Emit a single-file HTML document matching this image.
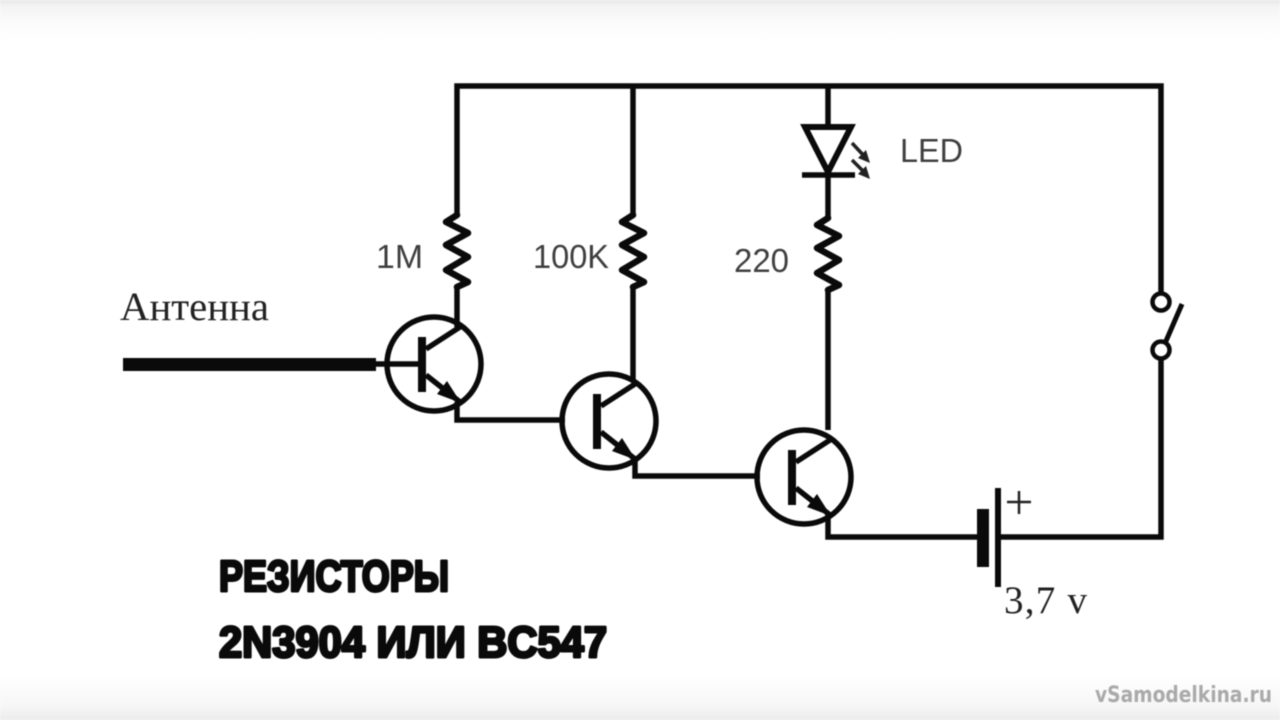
<!DOCTYPE html>
<html lang="ru">
<head>
<meta charset="utf-8">
<style>
html,body{margin:0;padding:0;background:#fff;width:1280px;height:720px;overflow:hidden}
svg{display:block;filter:blur(.4px)}
.w{fill:none;stroke:#0a0a0a;stroke-width:5.5;stroke-linejoin:miter}
.sans{font-family:"Liberation Sans",sans-serif;font-size:33px;fill:#3f3f3f}
.serif{font-family:"Liberation Serif","Noto Serif CJK SC",serif;fill:#222}
.bold{font-family:"Liberation Sans",sans-serif;font-weight:bold;fill:#0a0a0a;stroke:#0a0a0a;stroke-width:3;stroke-linejoin:round}
</style>
</head>
<body>
<svg width="1280" height="720" viewBox="0 0 1280 720" xmlns="http://www.w3.org/2000/svg">
<defs>
<linearGradient id="t" x1="0" y1="0" x2="0" y2="1"><stop offset="0" stop-color="#e8e8e8"/><stop offset=".15" stop-color="#f3f3f3"/><stop offset=".6" stop-color="#fcfcfc"/><stop offset="1" stop-color="#fff"/></linearGradient>
<linearGradient id="b" x1="0" y1="1" x2="0" y2="0"><stop offset="0" stop-color="#ececec"/><stop offset=".3" stop-color="#f6f6f6"/><stop offset="1" stop-color="#fff"/></linearGradient>
<g id="tr">
<circle cx="434" cy="364" r="47" fill="none" stroke="#0a0a0a" stroke-width="5.5"/>
<rect x="418" y="337" width="8" height="55" fill="#0a0a0a"/>
<path class="w" d="M426 349L460 327M426 375L460 402"/>
<path d="M461 403L437 394L447 381Z" fill="#0a0a0a"/>
</g>
<path id="rs" d="M0 0L-11 7L11 18L-11 30L11 42L-11 55L11 67L0 72" fill="none" stroke="#0a0a0a" stroke-width="6.5" stroke-linejoin="round" stroke-linecap="round"/>
</defs>
<rect width="1280" height="720" fill="#fff"/>
<rect width="1280" height="40" fill="url(#t)"/>
<rect y="675" width="1280" height="45" fill="url(#b)"/>

<!-- wires -->
<path class="w" d="M457 327V86H1161V293"/>
<path class="w" d="M633 380V86"/>
<path class="w" d="M828 86V127M828 172V430"/>
<path class="w" d="M1161 358V537H1000M977 537H828V512"/>
<path class="w" d="M457 402V420H565"/>
<path class="w" d="M635 457V476H760"/>
<path class="w" d="M375 364H420"/>

<!-- white out under resistors -->
<rect x="450" y="216" width="14" height="70" fill="#fff"/>
<rect x="626" y="216" width="14" height="70" fill="#fff"/>
<rect x="821" y="219" width="14" height="70" fill="#fff"/>
<use href="#rs" x="457" y="215"/>
<use href="#rs" x="633" y="215"/>
<use href="#rs" x="828" y="218"/>

<!-- transistors -->
<use href="#tr"/>
<use href="#tr" x="175" y="57"/>
<use href="#tr" x="370" y="113"/>

<!-- antenna -->
<rect x="123" y="358" width="253" height="13" fill="#0a0a0a"/>

<!-- LED -->
<path d="M805 127H851L828 172Z" fill="#fff" stroke="#0a0a0a" stroke-width="6"/>
<path class="w" d="M802 175H855"/>
<path d="M852 143L865 157M852 160L865 173" fill="none" stroke="#222" stroke-width="3.5"/>
<path d="M870 163L858 158L866 150ZM870 179L858 174L866 166Z" fill="#222"/>

<!-- switch -->
<circle cx="1161" cy="302" r="8.5" fill="#fff" stroke="#0a0a0a" stroke-width="4.5"/>
<circle cx="1161" cy="350" r="8.5" fill="#fff" stroke="#0a0a0a" stroke-width="4.5"/>
<path d="M1166 341L1182 304" fill="none" stroke="#0a0a0a" stroke-width="5"/>

<!-- battery -->
<rect x="977" y="509" width="12" height="58" fill="#0a0a0a"/>
<rect x="995" y="488" width="6" height="99" fill="#0a0a0a"/>
<path d="M1007 502H1031M1019 491V514" fill="none" stroke="#222" stroke-width="2.5"/>

<!-- labels -->
<text class="sans" x="900" y="162" textLength="63" lengthAdjust="spacingAndGlyphs">LED</text>
<text class="sans" x="376" y="268" textLength="47" lengthAdjust="spacingAndGlyphs">1M</text>
<text class="sans" x="533" y="268" textLength="76" lengthAdjust="spacingAndGlyphs">100K</text>
<text class="sans" x="734" y="272" textLength="55" lengthAdjust="spacingAndGlyphs">220</text>
<text class="serif" x="120" y="320" font-size="40" textLength="149" lengthAdjust="spacingAndGlyphs">Антенна</text>
<text class="serif" x="1004" y="613" font-size="39" textLength="83" lengthAdjust="spacing">3,7 v</text>
<text class="bold" x="219" y="591" font-size="44" textLength="230" lengthAdjust="spacingAndGlyphs">РЕЗИСТОРЫ</text>
<text class="bold" x="219" y="657" font-size="44" textLength="388" lengthAdjust="spacingAndGlyphs">2N3904 ИЛИ BC547</text>
<text x="1095" y="702" font-family="'DejaVu Sans',sans-serif" font-weight="bold" font-size="22" fill="#aaa" textLength="177" lengthAdjust="spacingAndGlyphs">vSamodelkina.ru</text>
</svg>
</body>
</html>
